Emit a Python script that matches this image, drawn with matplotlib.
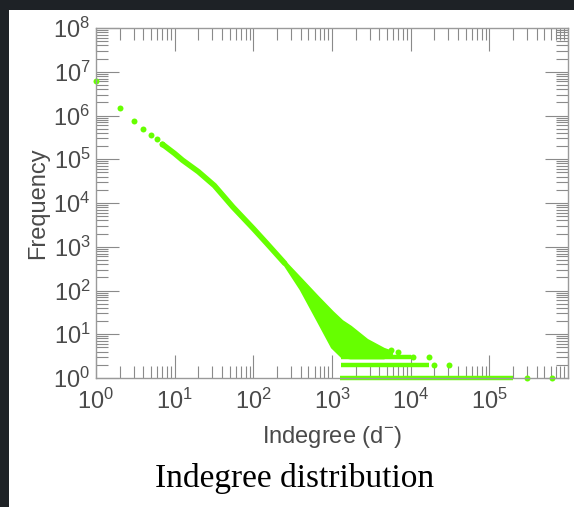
import matplotlib.pyplot as plt
import numpy as np
from matplotlib.ticker import LogLocator, FixedLocator
from matplotlib.patches import Rectangle

# 앞쪽 개별 점 (indegree, frequency)
head_deg = [1, 2, 3, 4, 5, 6, 7]
head_freq = [6.2e6, 1.5e6, 7.4e5, 4.9e5, 3.5e5, 2.9e5, 2.2e5]

# 이어진 본 곡선
curve_deg = [7, 10, 12.6, 20, 32, 55, 100, 148, 250]
curve_freq = [2.2e5, 1.35e5, 9.5e4, 5.2e4, 2.5e4, 8.1e3, 2.6e3, 1.2e3, 420]

# 꼬리 부분 퍼진 구간 (위/아래 경계)
tail_deg = [250, 400, 650, 1000, 1320, 1700, 2750, 4500, 5600]
tail_upper = [440, 180, 71, 32, 20, 14.8, 7.4, 4.6, 4.0]
tail_lower = [400, 110, 22, 5.2, 3.2, 3.0, 3.0, 3.0, 3.6]

# 빈도 1, 2, 3 의 가로 띠
band_freq = [1, 2, 3]
band_start = [1260, 1300, 1300]
band_end = [2.0e5, 1.7e4, 1.0e4]

# 떨어진 점들
iso_deg = [1.07e4, 1.7e4, 2.0e4, 3.1e4, 3.0e5, 6.2e5, 5600, 7000]
iso_freq = [3, 3, 2, 2, 1, 1, 4.4, 4]

green = '#66ff00'
gray = '#8a8a8a'
label_col = '#4a4a4a'

fig = plt.figure(figsize=(5.74, 5.07), dpi=100, facecolor='#1e2226')
# 흰 패널
fig.patches.append(Rectangle((9 / 574, 0), 1, (507 - 10) / 507,
                             transform=fig.transFigure, facecolor='white',
                             edgecolor='none', zorder=-5))

ax = fig.add_axes([96 / 574, (507 - 378) / 507, 472 / 574, 350 / 507])
ax.set_xscale('log')
ax.set_yscale('log')
ax.set_xlim(1, 1e6)
ax.set_ylim(1, 1e8)

ax.plot(head_deg, head_freq, 'o', color=green, markersize=4.3,
        markeredgewidth=0, clip_on=False)
ax.plot(curve_deg, curve_freq, '-', color=green, lw=4.0,
        solid_capstyle='round')
ax.fill_between(tail_deg, tail_lower, tail_upper, color=green, lw=2.5,
                edgecolor=green)
ax.hlines(band_freq, band_start, band_end, color=green, lw=3.2,
          clip_on=False)
ax.plot(iso_deg, iso_freq, 'o', color=green, markersize=4.3,
        markeredgewidth=0, clip_on=False)

# 눈금
ax.xaxis.set_major_locator(FixedLocator([10.0 ** i for i in range(0, 7)]))
ax.yaxis.set_major_locator(FixedLocator([10.0 ** i for i in range(0, 9)]))
ax.xaxis.set_minor_locator(LogLocator(subs=np.arange(2, 10), numticks=100))
ax.yaxis.set_minor_locator(LogLocator(subs=np.arange(2, 10), numticks=100))
ax.set_xticklabels([r'$\mathregular{10^{%d}}$' % i if i < 6 else ''
                    for i in range(0, 7)])
ax.set_yticklabels([r'$\mathregular{10^{%d}}$' % i for i in range(0, 9)])
ax.tick_params(which='both', direction='in', top=True, right=True,
               color=gray, width=0.8)
ax.tick_params(which='major', length=16.5)
ax.tick_params(which='minor', length=8.5)
ax.tick_params(axis='x', which='major', labelsize=17, labelcolor=label_col,
               pad=8)
ax.tick_params(axis='y', which='major', labelsize=17, labelcolor=label_col,
               pad=4)
for lab in ax.get_xticklabels() + ax.get_yticklabels():
    lab.set_family('Liberation Sans')
for s in ax.spines.values():
    s.set_color('#9a9a9a')
    s.set_linewidth(1.0)

ax.set_xlabel(r'Indegree (d$\mathregular{^{-}}$)', fontsize=17,
              color=label_col, family='Liberation Sans')
ax.set_ylabel('Frequency', fontsize=17, color=label_col,
              family='Liberation Sans')
ax.xaxis.set_label_coords(0.5, -0.132)
ax.yaxis.set_label_coords(-0.1, 0.5)

fig.text(295 / 574, 1 - 479 / 507, 'Indegree distribution',
         family='Liberation Serif', fontsize=24, color='black',
         ha='center', va='center')

fig.savefig('out.png', dpi=100, facecolor=fig.get_facecolor())
